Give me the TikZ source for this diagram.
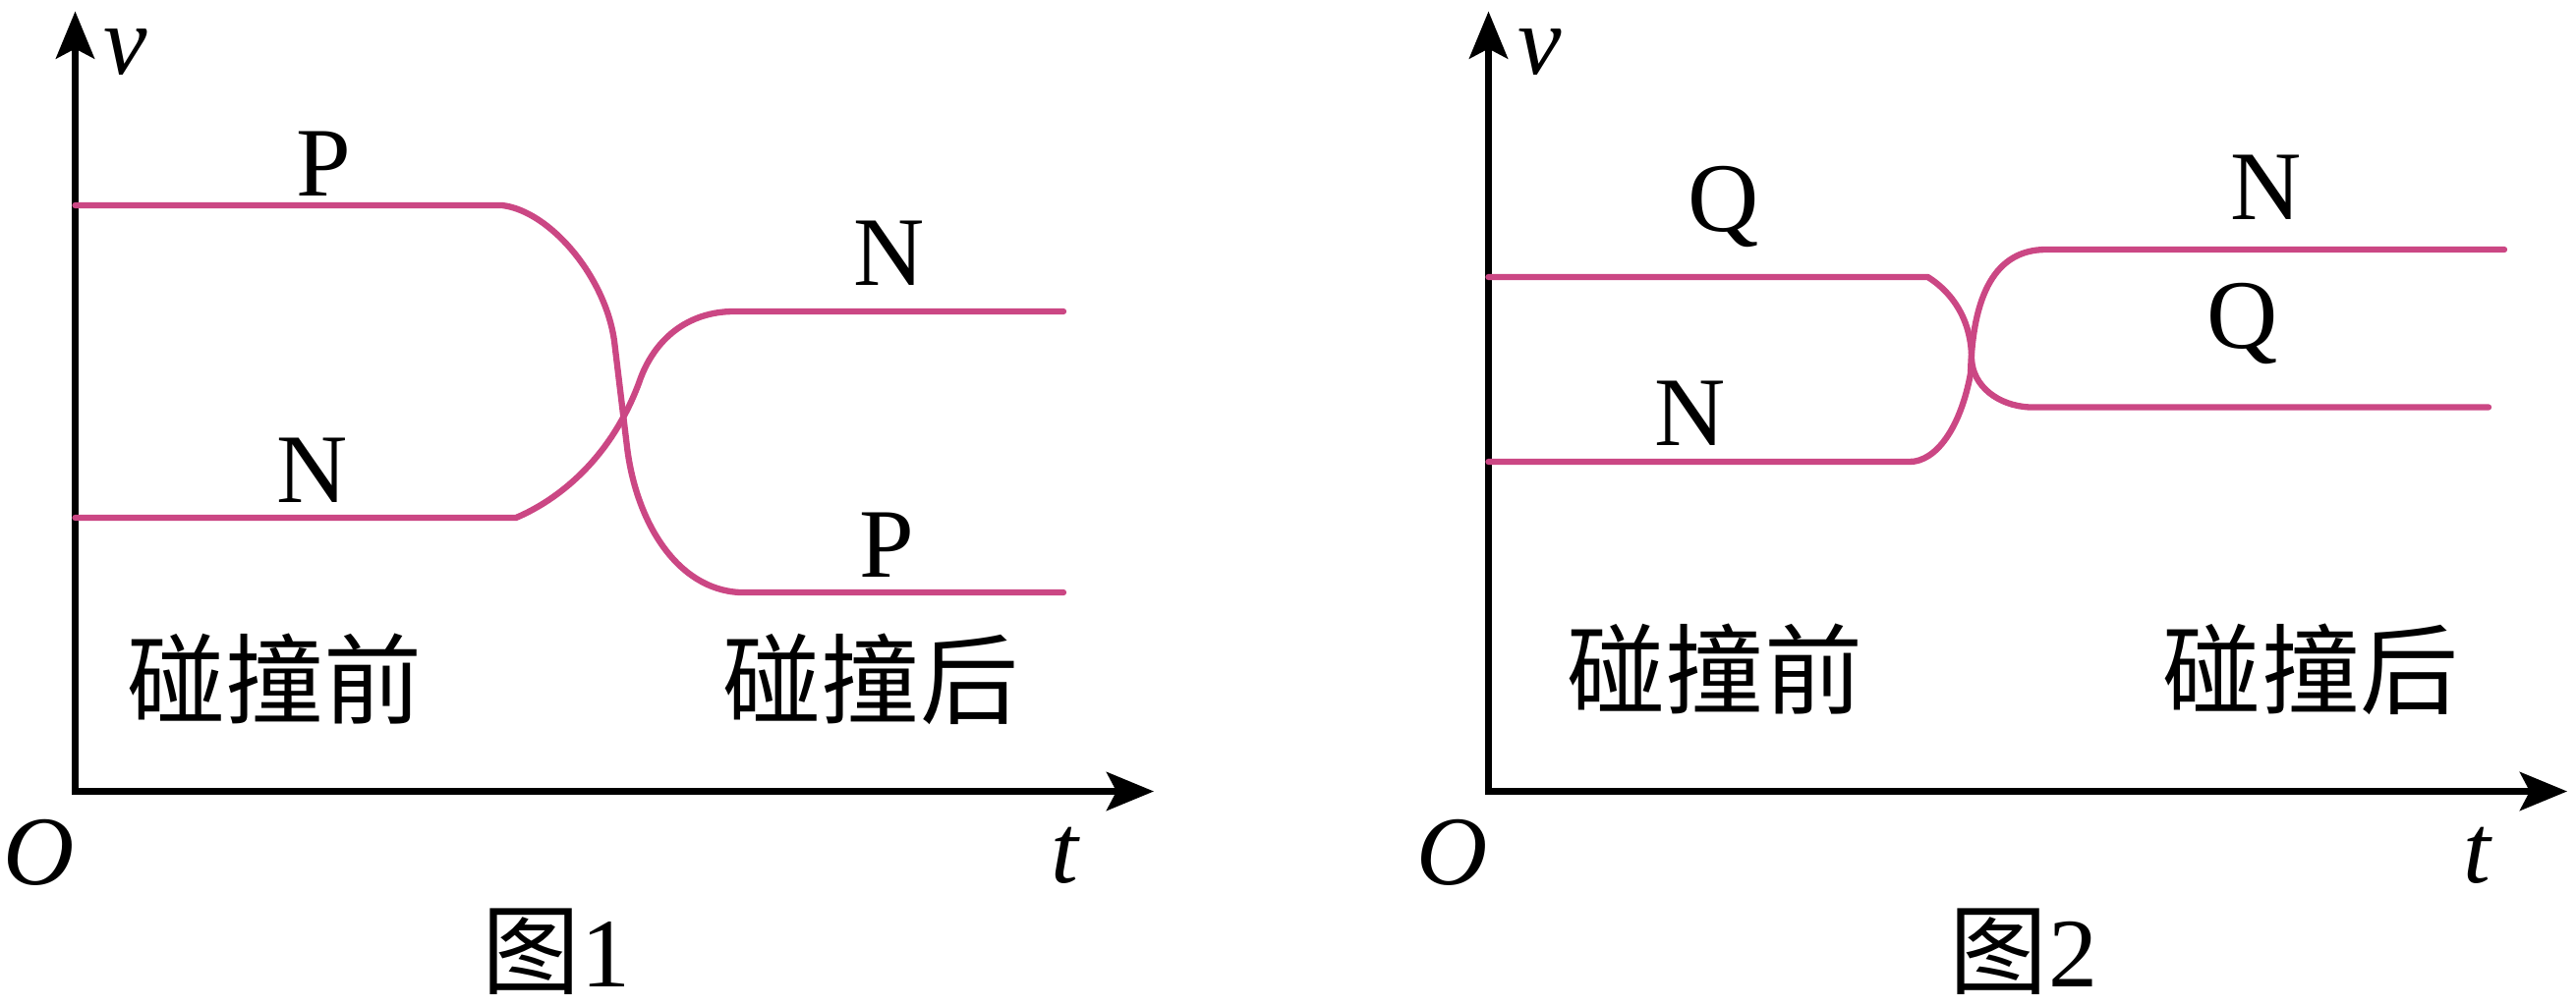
\documentclass[tikz,border=0pt]{standalone}
\usepackage{fontspec}
\setmainfont{Liberation Serif}
\newfontfamily\cjk{Noto Sans CJK SC}
\usetikzlibrary{arrows.meta}
\definecolor{curvecol}{RGB}{203,71,132}
\begin{document}
\begin{tikzpicture}[x=0.01cm,y=-0.01cm,
  axis/.style={line width=0.07cm, line join=miter,
    {Stealth[length=0.48cm,width=0.39cm,inset=0.1cm]}-{Stealth[length=0.48cm,width=0.39cm,inset=0.1cm]}},
  curve/.style={line width=0.063cm, curvecol, line cap=round, line join=round},
  lbl/.style={inner sep=0pt, anchor=base, font=\fontsize{28.45pt}{34pt}\selectfont},
  var/.style={inner sep=0pt, anchor=base, font=\fontsize{28.45pt}{34pt}\selectfont\itshape},
  zh/.style={inner sep=0pt, font=\fontsize{28.45pt}{34pt}\selectfont\cjk}]
\useasboundingbox (0,0) rectangle (2621,1024);

% ---------- Figure 1 ----------
\coordinate (v1) at (76.5,11.5);
\coordinate (o1) at (76.5,805.5);
\coordinate (t1) at (1174,805.5);
\draw[axis] (v1) -- (o1) -- (t1);

\draw[curve] (76.5,209) -- (511,209)
  .. controls (560,215) and (616,282) .. (625,347) -- (638,455)
  .. controls (647,530) and (688,600) .. (753,603) -- (1082,603);
\draw[curve] (76.5,527) -- (525,527)
  .. controls (565,510) and (620,470) .. (650,390)
  .. controls (665,345) and (700,317) .. (747,317) -- (1082,317);

\node[var] (lv1) at (128,75) {v};
\node[lbl] (lp1a) at (329,199) {P};
\node[lbl] (ln1a) at (318,511) {N};
\node[lbl] (ln1b) at (905,290) {N};
\node[lbl] (lp1b) at (902,587) {P};
\node[zh] (before1) at (279.5,691) {碰撞前};
\node[zh] (after1) at (886,691) {碰撞后};
\node[var] (lo1) at (40,900) {O};
\node[var] (lt1) at (1083,898.5) {t};
\node[lbl] (cap1) at (566,1004) {{\cjk 图}1};

% ---------- Figure 2 ----------
\coordinate (v2) at (1514.5,11.5);
\coordinate (o2) at (1514.5,805.5);
\coordinate (t2) at (2612,805.5);
\draw[axis] (v2) -- (o2) -- (t2);

\draw[curve] (1514.5,282) -- (1961.5,282)
  .. controls (1990,300) and (2006,330) .. (2006,365)
  .. controls (2007,393) and (2033,413) .. (2065,414.5) -- (2532,414.5);
\draw[curve] (1514.5,470) -- (1943,470)
  .. controls (1970,470) and (1995,435) .. (2005,380)
  .. controls (2007,300) and (2030,254) .. (2082,254) -- (2548,254);

\node[var] (lv2) at (1567,75) {v};
\node[lbl] (lq2a) at (1754,235) {Q};
\node[lbl] (ln2a) at (1720,453.5) {N};
\node[lbl] (ln2b) at (2306,223) {N};
\node[lbl] (lq2b) at (2282,354) {Q};
\node[zh] (before2) at (1745,681) {碰撞前};
\node[zh] (after2) at (2351,681) {碰撞后};
\node[var] (lo2) at (1478,900) {O};
\node[var] (lt2) at (2520,898.5) {t};
\node[lbl] (cap2) at (2059,1004) {{\cjk 图}2};
\end{tikzpicture}
\end{document}
